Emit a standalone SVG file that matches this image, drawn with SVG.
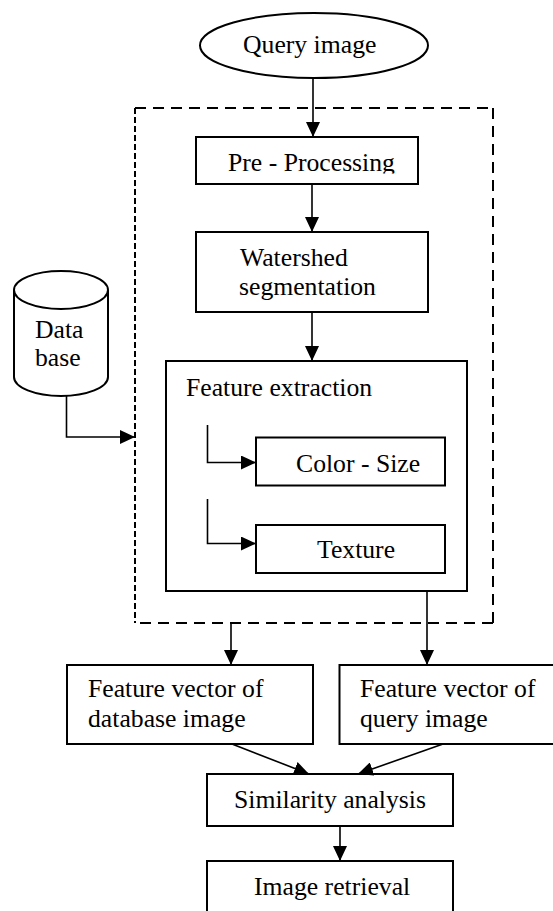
<svg xmlns="http://www.w3.org/2000/svg" width="553" height="911" viewBox="0 0 553 911" font-family="'Liberation Serif', 'Times New Roman', 'DejaVu Serif', serif">
<style>
  .box{fill:#fff;stroke:#000;stroke-width:2}
  .t{font-family:'Liberation Serif','Times New Roman','DejaVu Serif',serif;font-size:25.7px;fill:#000}
  .c{fill:none;stroke:#000;stroke-width:1.6}
  .d{fill:none;stroke:#000;stroke-width:2}
</style>
<defs>
  <marker id="ah" markerUnits="userSpaceOnUse" markerWidth="15" markerHeight="14" refX="15" refY="7" orient="auto">
    <path d="M0,0 L15,7 L0,14 z" fill="#000"/>
  </marker>
  <clipPath id="ppclip"><rect x="196" y="137" width="222" height="36.5"/></clipPath>
</defs>
<rect width="553" height="911" fill="#fff"/>

<g id="boundary">
  <line class="d" x1="135" y1="108" x2="493" y2="108" stroke-dasharray="11 7"/>
  <line class="d" x1="493" y1="108" x2="493" y2="623" stroke-dasharray="11 7"/>
  <line class="d" x1="493" y1="623" x2="135" y2="623" stroke-dasharray="11 7"/>
  <line class="d" x1="135" y1="108" x2="135" y2="623" stroke-dasharray="6 3"/>
</g>

<g id="query-image">
  <ellipse class="box" cx="314" cy="45.5" rx="114" ry="32.5"/>
  <text class="t" x="243" y="53">Query image</text>
</g>

<g id="pre-processing">
  <rect class="box" x="196" y="137" width="222" height="47"/>
  <text class="t" x="228" y="171" clip-path="url(#ppclip)">Pre - Processing</text>
</g>

<g id="watershed">
  <rect class="box" x="196" y="232" width="232" height="80"/>
  <text class="t" x="240" y="266">Watershed</text>
  <text class="t" x="239" y="295">segmentation</text>
</g>

<g id="feature-extraction">
  <rect class="box" x="166" y="361" width="301" height="230"/>
  <text class="t" x="186" y="396">Feature extraction</text>
</g>

<g id="color-size">
  <rect class="box" x="256" y="437.5" width="189" height="48"/>
  <text class="t" x="296" y="472">Color - Size</text>
</g>

<g id="texture">
  <rect class="box" x="256" y="525" width="189" height="48"/>
  <text class="t" x="317" y="558">Texture</text>
</g>

<g id="database">
  <path class="box" d="M14,290 L14,377 A47,19 0 0 0 108,377 L108,290"/>
  <ellipse class="box" cx="61" cy="290" rx="47" ry="19"/>
  <text class="t" x="35" y="338">Data</text>
  <text class="t" x="35" y="366">base</text>
</g>

<g id="fv-database">
  <rect class="box" x="67" y="665" width="246" height="79"/>
  <text class="t" x="88" y="697">Feature vector of</text>
  <text class="t" x="88" y="727">database image</text>
</g>

<g id="fv-query">
  <rect class="box" x="339.5" y="665" width="230" height="79"/>
  <text class="t" x="360" y="697">Feature vector of</text>
  <text class="t" x="360" y="727">query image</text>
</g>

<g id="similarity">
  <rect class="box" x="207" y="774" width="246" height="52"/>
  <text class="t" x="234" y="808">Similarity analysis</text>
</g>

<g id="retrieval">
  <rect class="box" x="207" y="861" width="246" height="70"/>
  <text class="t" x="254" y="895">Image retrieval</text>
</g>

<g id="connectors">
  <line class="c" x1="313" y1="78" x2="313" y2="137" marker-end="url(#ah)"/>
  <line class="c" x1="312" y1="184" x2="312" y2="232" marker-end="url(#ah)"/>
  <line class="c" x1="312" y1="312" x2="312" y2="361" marker-end="url(#ah)"/>
  <polyline class="c" points="207.5,425 207.5,462.5 256,462.5" marker-end="url(#ah)"/>
  <polyline class="c" points="207.5,499 207.5,543.5 256,543.5" marker-end="url(#ah)"/>
  <polyline class="c" points="66.5,396 66.5,437 135,437" marker-end="url(#ah)"/>
  <line class="c" x1="231" y1="623" x2="231" y2="665" marker-end="url(#ah)"/>
  <line class="c" x1="427" y1="591" x2="427" y2="665" marker-end="url(#ah)"/>
  <line class="c" x1="232" y1="744" x2="309" y2="774" marker-end="url(#ah)"/>
  <line class="c" x1="443" y1="744" x2="358" y2="774" marker-end="url(#ah)"/>
  <line class="c" x1="340" y1="826" x2="340" y2="861" marker-end="url(#ah)"/>
</g>
</svg>
